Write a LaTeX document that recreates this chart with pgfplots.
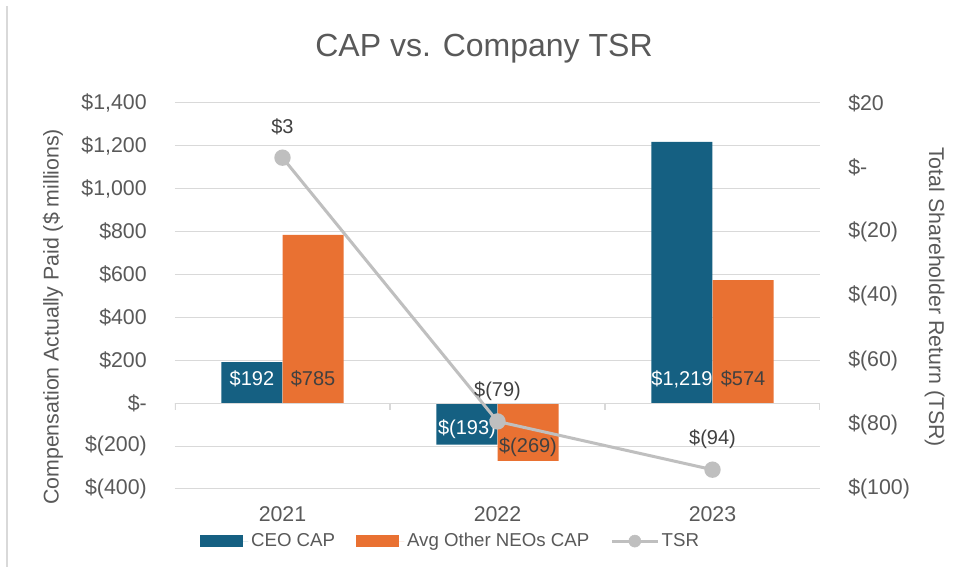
\documentclass[border=0pt]{standalone}
\usepackage{pgfplots}
\pgfplotsset{compat=1.18}
\usepackage{fontspec}
\setmainfont{Liberation Sans}
\definecolor{ceo}{HTML}{156082}
\definecolor{neo}{HTML}{E97132}
\definecolor{tsr}{HTML}{BFBFBF}
\definecolor{txt}{HTML}{595959}
\definecolor{lbl}{HTML}{404040}
\definecolor{gridc}{HTML}{D9D9D9}
\begin{document}
\begin{tikzpicture}[x=0.75pt,y=0.75pt]
\useasboundingbox (0,0) rectangle (972,577);
\fill[white] (0,0) rectangle (972,577);
\draw[gridc, line width=1.5pt] (7,10) -- (7,571);
\node[txt, font=\fontsize{24}{29}\selectfont] at (484,528) {CAP vs. Company TSR};
\begin{axis}[
  at={(131.25pt,66pt)}, anchor=south west,
  scale only axis, width=483.75pt, height=289.5pt,
  xmin=-0.5, xmax=2.5, ymin=-400, ymax=1400,
  axis lines*=left,
  axis line style={draw=none},
  tick style={draw=none},
  xtick={0,1,2}, xticklabels={2021,2022,2023},
  ytick={-400,-200,...,1400},
  yticklabels={\$(400),\$(200),\$-,\$200,\$400,\$600,\$800,{\$1,000},{\$1,200},{\$1,400}},
  ymajorgrids, grid style={gridc, line width=0.75pt},
  ticklabel style={txt, font=\fontsize{16}{19}\selectfont},
  yticklabel style={inner sep=0pt, anchor=east, xshift=-21pt},
  xticklabel style={inner sep=0pt, anchor=north, yshift=-13pt},
  ylabel={Compensation Actually Paid (\$ millions)},
  ylabel style={at={(rel axis cs:0,0.446)}, anchor=center, yshift=91.5pt, txt, font=\fontsize{16}{19}\selectfont},
  legend style={draw=none, fill=none, at={(0.428,-0.135)}, anchor=center, legend columns=3,
    font=\fontsize{14}{17}\selectfont, text=txt,
    /tikz/every even column/.append style={column sep=14pt}},
  legend cell align=left,
]
\addplot[ybar, bar width=0.2837, bar shift=-0.1419, fill=ceo, draw=none,
  legend image code/.code={\fill[ceo] (0pt,-4.5pt) rectangle (32pt,4.5pt); \path[draw=none] (0pt,0pt) -- (36pt,0pt);}]
  coordinates {(0,192) (1,-193) (2,1219)};
\addlegendentry{CEO CAP}
\addplot[ybar, bar width=0.2837, bar shift=0.1419, fill=neo, draw=none,
  legend image code/.code={\fill[neo] (0pt,-4.5pt) rectangle (32pt,4.5pt); \path[draw=none] (0pt,0pt) -- (36pt,0pt);}]
  coordinates {(0,785) (1,-269) (2,574)};
\addlegendentry{Avg Other NEOs CAP}
\addlegendimage{legend image code/.code={\draw[tsr, line width=2.25pt] (0pt,0pt) -- (34pt,0pt); \fill[tsr] (17pt,0pt) circle (4.5pt);}}
\addlegendentry{TSR}
\draw[gridc, line width=1pt] (axis cs:-0.5,0) -- (axis cs:2.5,0);
\draw[gridc, line width=1pt] (axis cs:-0.5,0) -- ++(0pt,-5pt);
\draw[gridc, line width=1pt] (axis cs:0.5,0) -- ++(0pt,-5pt);
\draw[gridc, line width=1pt] (axis cs:1.5,0) -- ++(0pt,-5pt);
\draw[gridc, line width=1pt] (axis cs:2.5,0) -- ++(0pt,-5pt);
\addplot[draw=none, forget plot, nodes near coords, point meta=explicit symbolic,
  every node near coord/.append style={anchor=center, white, font=\fontsize{15}{18}\selectfont}]
  coordinates {(-0.1419,112)[\$192] (0.8581,-121)[\$(193)] (1.8581,112)[\$1{,}219]};
\addplot[draw=none, forget plot, nodes near coords, point meta=explicit symbolic,
  every node near coord/.append style={anchor=center, lbl, font=\fontsize{15}{18}\selectfont}]
  coordinates {(0.1419,112)[\$785] (1.1419,-205)[\$(269)] (2.1419,112)[\$574]};
\end{axis}
\begin{axis}[
  at={(131.25pt,66pt)}, anchor=south west,
  scale only axis, width=483.75pt, height=289.5pt,
  xmin=-0.5, xmax=2.5, ymin=-100, ymax=20,
  axis y line*=right, axis x line=none,
  axis line style={draw=none},
  tick style={draw=none},
  ytick={-100,-80,...,20},
  yticklabels={\$(100),\$(80),\$(60),\$(40),\$(20),\$-,\$20},
  ticklabel style={txt, font=\fontsize{16}{19}\selectfont},
  yticklabel style={inner sep=0pt, anchor=west, xshift=21pt},
  ylabel={Total Shareholder Return (TSR)},
  ylabel style={at={(rel axis cs:1,0.497)}, anchor=center, rotate=180, yshift=86pt, txt, font=\fontsize{16}{19}\selectfont},
]
\addplot[tsr, line width=2.25pt, mark=*, mark size=5pt, mark options={fill=tsr, draw=tsr},
  nodes near coords, point meta=explicit symbolic,
  every node near coord/.append style={anchor=center, yshift=23pt, lbl, font=\fontsize{15}{18}\selectfont}]
  coordinates {(0,3)[\$3] (1,-79)[\$(79)] (2,-94)[\$(94)]};
\end{axis}
\end{tikzpicture}
\end{document}
